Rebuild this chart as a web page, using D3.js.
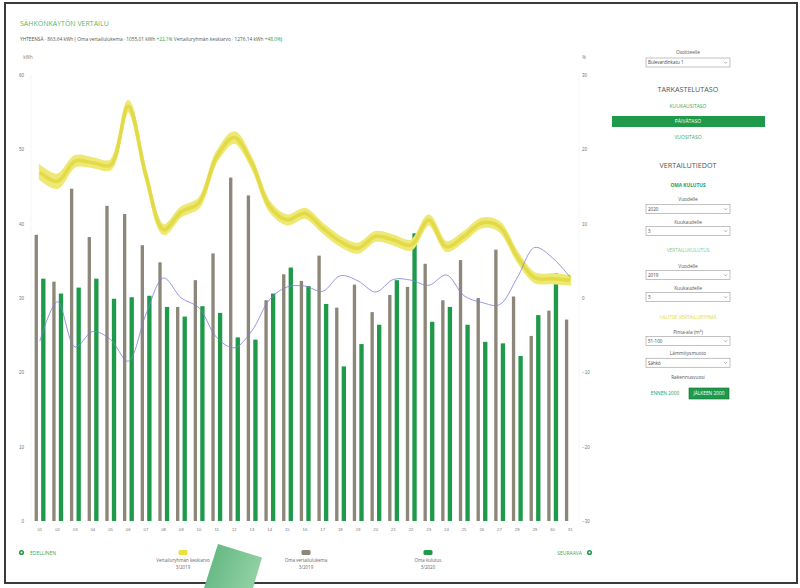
<!DOCTYPE html>
<html lang="fi">
<head>
<meta charset="utf-8">
<title>Sähkönkäytön vertailu</title>
<style>
  body { margin: 0; background: #fff; }
  svg { display: block; font-family: "Open Sans", "DejaVu Sans", sans-serif; }
  .tick text { fill: #777; }
</style>
<script src="https://cdn.jsdelivr.net/npm/d3@7"></script>
</head>
<body>
<svg width="800" height="588"></svg>
<script>
  // päivät 1..31, maaliskuu
  var days = ["01","02","03","04","05","06","07","08","09","10","11","12","13","14","15","16",
              "17","18","19","20","21","22","23","24","25","26","27","28","29","30","31"];

  // Oma vertailulukema 3/2019 (kWh)
  var ownRef = [38.5,32.2,44.7,38.2,42.4,41.3,37.1,34.8,28.8,32.4,36.0,46.2,43.8,29.7,33.2,32.3,
                35.7,28.7,31.8,28.1,30.4,31.5,34.6,29.7,35.1,30.0,36.5,30.2,24.9,28.3,27.1];
  // Oma kulutus 3/2020 (kWh), päivä 31 puuttuu
  var ownUse = [32.6,30.6,31.4,32.6,29.9,30.1,30.3,28.8,27.5,28.9,28.0,24.7,24.4,30.6,34.1,31.6,
                29.2,20.8,23.8,26.4,32.4,38.7,26.8,28.8,26.4,24.1,23.9,22.2,27.7,33.3,null];
  // Vertailuryhmän keskiarvo 3/2019 (kWh) + vaihteluväli
  var groupAvg = [46.9,45.7,48.4,48.2,47.9,55.8,46.5,39.2,41.6,42.8,49.0,51.6,48.1,42.3,40.5,41.4,
                  39.4,37.6,36.7,38.3,37.8,37.1,40.5,36.9,38.3,40.1,39.6,35.6,32.7,32.6,32.4];
  var groupLow = [46.0,44.8,47.7,47.6,47.3,55.1,45.9,38.6,41.0,42.2,48.4,50.9,47.5,41.7,39.9,40.8,
                  38.8,37.0,36.1,37.7,37.2,36.5,39.9,36.3,37.7,39.5,39.0,35.0,32.1,32.0,31.8];
  var groupHigh = [47.8,46.6,49.1,48.8,48.5,56.5,47.1,39.8,42.2,43.4,49.6,52.3,48.7,42.9,41.1,42.0,
                   40.0,38.2,37.3,38.9,38.4,37.7,41.1,37.5,38.9,40.7,40.2,36.2,33.3,33.2,33.0];
  // muutos % (oikea akseli)
  var changePct = [-5.8,-0.5,-6.6,-4.5,-5.6,-8.5,-2.2,2.7,0.0,-1.3,-5.3,-6.7,-4.4,-0.2,1.5,1.6,
                   0.9,3.0,2.3,0.8,2.5,2.4,1.7,3.1,0.3,-0.6,-0.9,2.7,6.8,5.4,2.8];

  var kwhTicks = [0,10,20,30,40,50,60];
  var pctTicks = [-30,-20,-10,0,10,20,30];

  var svg = d3.select("svg");

  // kehys
  svg.append("rect")
    .attr("x", 5).attr("y", 3).attr("width", 792).attr("height", 580)
    .attr("fill", "#fff").attr("stroke", "#3a3a3a").attr("stroke-width", 2);

  // otsikko
  svg.append("text")
    .attr("x", 20).attr("y", 26)
    .attr("font-size", 7).attr("fill", "#5cb85c")
    .text("SÄHKÖNKÄYTÖN VERTAILU");

  var sub = svg.append("text")
    .attr("x", 20).attr("y", 41)
    .attr("font-size", 4.8).attr("fill", "#555");
  sub.append("tspan").text("YHTEENSÄ · 863,64 kWh ( Oma vertailulukema · 1055,01 kWh ");
  sub.append("tspan").attr("fill", "#2ea043").text("+22,1%");
  sub.append("tspan").text("  Vertailuryhmän keskiarvo · 1276,14 kWh ");
  sub.append("tspan").attr("fill", "#2ea043").text("+48,0%");
  sub.append("tspan").text(")");

  var x = d3.scaleBand().domain(days).range([31, 579]);
  var xs = d3.scaleBand().domain(["ref", "use"]).range([0, x.bandwidth()])
    .paddingInner(0.4).paddingOuter(0.55);
  var y = d3.scaleLinear().domain([0, 60]).range([521, 75]);
  var yp = d3.scaleLinear().domain([-30, 30]).range([521, 75]);
  var cx = function(i) { return x(days[i]) + x.bandwidth() / 2; };

  // reunaviivat
  svg.append("g").selectAll("line")
    .data(x.range())
    .join("line")
      .attr("x1", function(d) { return d; }).attr("x2", function(d) { return d; })
      .attr("y1", y(60)).attr("y2", y(0))
      .attr("stroke", "#f0f0f0").attr("stroke-width", 0.7);

  // akselit
  svg.append("g")
    .attr("transform", "translate(31,0)")
    .call(d3.axisLeft(y).tickValues(kwhTicks).tickSize(0).tickPadding(7))
    .call(function(g) { g.select(".domain").remove(); })
    .selectAll("text").attr("font-size", 4.5);

  svg.append("g")
    .attr("transform", "translate(579,0)")
    .call(d3.axisRight(yp).tickValues(pctTicks).tickSize(0).tickPadding(3))
    .call(function(g) { g.select(".domain").remove(); })
    .selectAll("text").attr("font-size", 4.5);

  svg.append("g")
    .attr("transform", "translate(0,521)")
    .call(d3.axisBottom(x).tickSize(0).tickPadding(7))
    .call(function(g) { g.select(".domain").remove(); })
    .selectAll("text").attr("font-size", 4.3);

  svg.append("text").attr("x", 28).attr("y", 59).attr("text-anchor", "middle")
    .attr("font-size", 4.5).attr("fill", "#777").text("kWh");
  svg.append("text").attr("x", 584).attr("y", 59).attr("text-anchor", "middle")
    .attr("font-size", 4.5).attr("fill", "#777").text("%");

  // pylväät
  svg.append("g").selectAll("rect")
    .data(ownRef)
    .join("rect")
      .attr("x", function(d, i) { return x(days[i]) + xs("ref"); })
      .attr("width", xs.bandwidth() - 0.6)
      .attr("y", function(d) { return y(d); })
      .attr("height", function(d) { return y(0) - y(d); })
      .attr("fill", "#8d877a");

  svg.append("g").selectAll("rect")
    .data(ownUse.map(function(v, i) { return { v: v, i: i }; }).filter(function(d) { return d.v != null; }))
    .join("rect")
      .attr("x", function(d) { return x(days[d.i]) + xs("use"); })
      .attr("width", xs.bandwidth() + 0.4)
      .attr("y", function(d) { return y(d.v); })
      .attr("height", function(d) { return y(0) - y(d.v); })
      .attr("fill", "#1f9a4a");

  // vertailuryhmä
  var idx = d3.range(days.length);
  var curve = d3.curveCatmullRom.alpha(0.5);

  svg.append("path")
    .datum(idx)
    .attr("fill", "#eee874")
    .attr("stroke", "#eee874").attr("stroke-width", 2)
    .attr("d", d3.area()
      .x(cx)
      .y0(function(i) { return y(groupLow[i]); })
      .y1(function(i) { return y(groupHigh[i]); })
      .curve(curve));

  svg.append("path")
    .datum(idx)
    .attr("fill", "none")
    .attr("stroke", "#e0d63c").attr("stroke-width", 3.5).attr("opacity", 0.8)
    .attr("d", d3.line().x(cx).y(function(i) { return y(groupAvg[i]); }).curve(curve));

  // muutos %
  svg.append("path")
    .datum(idx)
    .attr("fill", "none")
    .attr("stroke", "#7d7dd8").attr("stroke-width", 0.8)
    .attr("d", d3.line().x(cx).y(function(i) { return yp(changePct[i]); }).curve(curve));

  // selitteet
  var legend = [
    { color: "#ebe13a", l1: "Vertailuryhmän keskiarvo", l2: "3/2019", x: 183 },
    { color: "#8d877a", l1: "Oma vertailulukema", l2: "3/2019", x: 306 },
    { color: "#1f9a4a", l1: "Oma kulutus", l2: "3/2020", x: 428 }
  ];
  var lg = svg.append("g").selectAll("g").data(legend).join("g")
    .attr("transform", function(d) { return "translate(" + d.x + ",0)"; });
  lg.append("rect").attr("x", -4.5).attr("y", 550).attr("width", 9).attr("height", 5)
    .attr("rx", 1.5).attr("fill", function(d) { return d.color; });
  lg.append("text").attr("y", 562).attr("text-anchor", "middle").attr("font-size", 4.5)
    .attr("fill", "#666").text(function(d) { return d.l1; });
  lg.append("text").attr("y", 569).attr("text-anchor", "middle").attr("font-size", 4.5)
    .attr("fill", "#666").text(function(d) { return d.l2; });

  // edellinen / seuraava
  function navIcon(px, py) {
    svg.append("circle").attr("cx", px).attr("cy", py).attr("r", 2.6).attr("fill", "#2a9a50");
    svg.append("circle").attr("cx", px).attr("cy", py).attr("r", 1).attr("fill", "#fff");
  }
  navIcon(21.5, 552.5);
  svg.append("text").attr("x", 30).attr("y", 554.5).attr("font-size", 5)
    .attr("fill", "#3aa65a").text("EDELLINEN");
  navIcon(589.5, 552.5);
  svg.append("text").attr("x", 582).attr("y", 554.5).attr("font-size", 5)
    .attr("text-anchor", "end").attr("fill", "#3aa65a").text("SEURAAVA");

  // oikea paneeli
  var pc = 688;
  function label(txt, py, size, color, weight) {
    svg.append("text").attr("x", pc).attr("y", py).attr("text-anchor", "middle")
      .attr("font-size", size).attr("fill", color).attr("font-weight", weight || 400).text(txt);
  }
  function select(txt, py) {
    svg.append("rect").attr("x", 646).attr("y", py).attr("width", 84).attr("height", 9)
      .attr("fill", "#fff").attr("stroke", "#a8a8a8").attr("stroke-width", 0.7);
    svg.append("text").attr("x", 648).attr("y", py + 6.3).attr("font-size", 4.5)
      .attr("fill", "#444").text(txt);
    svg.append("path")
      .attr("d", "M" + 724 + "," + (py + 3.8) + "l1.5,1.5l1.5,-1.5")
      .attr("fill", "none").attr("stroke", "#666").attr("stroke-width", 0.5);
  }

  label("Osoitteelle", 54, 4.8, "#555");
  select("Bulevardinkatu 1", 58);
  label("TARKASTELUTASO", 92, 7.2, "#555");
  label("KUUKAUSITASO", 108, 5, "#3aa65a");
  svg.append("rect").attr("x", 612).attr("y", 116).attr("width", 153).attr("height", 11)
    .attr("fill", "#1f9a4a");
  label("PÄIVÄTASO", 123.3, 5, "#fff");
  label("VUOSITASO", 138.5, 5, "#3aa65a");
  label("VERTAILUTIEDOT", 168, 7.2, "#555");
  label("OMA KULUTUS", 187, 4.8, "#2a9a50", 700);
  label("Vuodelle", 201, 4.8, "#555");
  select("2020", 204.5);
  label("Kuukaudelle", 223.5, 4.8, "#555");
  select("3", 226.5);
  label("VERTAILUKULUTUS", 252, 4.8, "#86c595");
  label("Vuodelle", 267.5, 4.8, "#555");
  select("2019", 270.5);
  label("Kuukaudelle", 290, 4.8, "#555");
  select("3", 292.5);
  label("VALITSE VERTAILURYHMÄ", 318.5, 4.8, "#e3dc3a");
  label("Pinta-ala (m²)", 333.5, 4.8, "#555");
  select("51-100", 336.5);
  label("Lämmitysmuoto", 355, 4.8, "#555");
  select("Sähkö", 358.3);
  label("Rakennusvuosi", 378.5, 4.8, "#555");

  svg.append("text").attr("x", 665).attr("y", 395).attr("text-anchor", "middle")
    .attr("font-size", 4.8).attr("fill", "#2a9a50").text("ENNEN 2000");
  svg.append("rect").attr("x", 689).attr("y", 388).attr("width", 40).attr("height", 11)
    .attr("fill", "#1f9a4a").attr("stroke", "#0f6f30").attr("stroke-width", 0.6);
  svg.append("text").attr("x", 709).attr("y", 395.2).attr("text-anchor", "middle")
    .attr("font-size", 4.8).attr("fill", "#fff").text("JÄLKEEN 2000");

  // vihreä lappu kuvan päällä
  var grad = svg.append("defs").append("linearGradient").attr("id", "tab")
    .attr("x1", 0).attr("y1", 0).attr("x2", 1).attr("y2", 0.3);
  grad.append("stop").attr("offset", 0).attr("stop-color", "#5bb37c");
  grad.append("stop").attr("offset", 1).attr("stop-color", "#8fd0a2");
  svg.append("path")
    .attr("d", "M218,544L262,557.5L253,588L204,588Z")
    .attr("fill", "url(#tab)");
</script>
</body>
</html>
